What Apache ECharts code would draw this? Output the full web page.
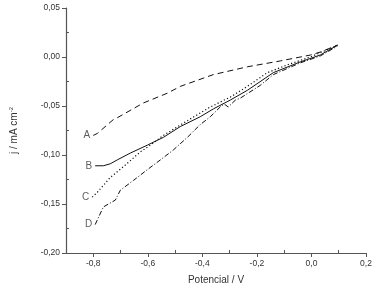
<!DOCTYPE html>
<html>
<head>
<meta charset="utf-8">
<script src="https://cdn.jsdelivr.net/npm/echarts@6/dist/echarts.min.js"></script>
<style>html,body{margin:0;padding:0;background:#fff}#c{width:383px;height:294px}</style>
</head>
<body>
<div id="c"></div>
<script>
// Data (Potencial / V, j / mA cm^-2)
const curveA = [[-0.800,-0.080],[-0.785,-0.078],[-0.727,-0.064],[-0.712,-0.062],[-0.617,-0.047],[-0.529,-0.037],[-0.481,-0.030],[-0.360,-0.018],[-0.235,-0.010],[-0.114,-0.004],[-0.004,0.002],[0.032,0.005],[0.095,0.012],[0.102,0.014],[0.080,0.010]];
const curveB = [[-0.793,-0.111],[-0.763,-0.111],[-0.738,-0.109],[-0.712,-0.105],[-0.664,-0.098],[-0.602,-0.090],[-0.543,-0.082],[-0.481,-0.071],[-0.408,-0.061],[-0.360,-0.053],[-0.298,-0.044],[-0.235,-0.034],[-0.140,-0.016],[-0.041,-0.005],[0.032,0.002],[0.095,0.012]];
const curveC = [[-0.804,-0.143],[-0.785,-0.138],[-0.738,-0.123],[-0.690,-0.112],[-0.628,-0.097],[-0.591,-0.090],[-0.543,-0.080],[-0.455,-0.065],[-0.371,-0.051],[-0.298,-0.041],[-0.235,-0.030],[-0.162,-0.016],[-0.078,-0.007],[-0.004,0.000],[0.095,0.012]];
const curveD = [[-0.793,-0.171],[-0.763,-0.153],[-0.719,-0.146],[-0.701,-0.136],[-0.653,-0.126],[-0.602,-0.115],[-0.554,-0.105],[-0.507,-0.095],[-0.455,-0.082],[-0.408,-0.069],[-0.371,-0.061],[-0.331,-0.050],[-0.320,-0.048],[-0.305,-0.051],[-0.279,-0.044],[-0.261,-0.042],[-0.188,-0.029],[-0.140,-0.018],[-0.041,-0.006],[0.032,0.001],[0.095,0.011]];
const curveNames = ['A','B','C','D'];
const xMajorTicks = [-0.8,-0.6,-0.4,-0.2,0.0,0.2];
const xMinorTicks = [-0.9,-0.7,-0.5,-0.3,-0.1,0.1];
const yMajorTicks = [-0.20,-0.15,-0.10,-0.05,0.00,0.05];
const yMinorTicks = [-0.175,-0.125,-0.075,-0.025,0.025];

const curves = [curveA, curveB, curveC, curveD];
const dashes = [[6,4], 'solid', [1.2,2.3], [5,2,1,2]];
const widths = [1, 1, 1.2, 1];
const fmt = (d) => (v) => v.toFixed(d).replace('.', ',').replace(/^-(0,0+)$/, '$1');
const lab = {fontFamily:'Liberation Sans, Arial, sans-serif', fontSize:8.5, color:'#333'};
const axisLine = {show:true, onZero:false, lineStyle:{color:'#555', width:1.2}};

const series = curves.map((c, i) => ({
  type:'line', xAxisIndex:0, yAxisIndex:0, data:c, showSymbol:false, symbol:'none',
  lineStyle:{color:'#111', width:widths[i], type:dashes[i]}, animation:false, silent:true
}));
series.push({
  type:'scatter', xAxisIndex:0, yAxisIndex:0, symbolSize:0, animation:false, silent:true,
  data: curves.map((c, i) => ({name:curveNames[i], value:c[0]})),
  label:{show:true, position:'left', distance:3, formatter:(p)=>p.name,
    fontFamily:'Liberation Sans, Arial, sans-serif', fontSize:10, color:'#333'}
});

const chart = echarts.init(document.getElementById('c'), null, {renderer:'canvas'});
chart.setOption({
  backgroundColor:'#fff',
  animation:false,
  grid:{left:66, right:17, top:8, bottom:41},
  xAxis:[{
    type:'value', min:-0.9, max:0.2, position:'bottom',
    name:'Potencial / V', nameLocation:'middle', nameGap:22,
    nameTextStyle:{fontFamily:'Liberation Sans, Arial, sans-serif', fontSize:10, color:'#333'},
    axisLine:axisLine, splitLine:{show:false},
    axisTick:{show:true, customValues:xMajorTicks, inside:false, length:4, lineStyle:{color:'#555'}},
    axisLabel:Object.assign({customValues:xMajorTicks, formatter:fmt(1), margin:6}, lab)
  },{
    type:'value', min:-0.9, max:0.2, position:'bottom',
    axisLine:{show:false, onZero:false}, splitLine:{show:false}, axisLabel:{show:false},
    axisTick:{show:true, customValues:xMinorTicks, inside:true, length:3, lineStyle:{color:'#555'}}
  }],
  yAxis:[{
    type:'value', min:-0.2, max:0.05, position:'left',
    name:'j / mA cm{s|-2}', nameLocation:'middle', nameGap:46, nameRotate:90,
    nameTextStyle:{fontFamily:'Liberation Sans, Arial, sans-serif', fontSize:10, color:'#333',
      rich:{s:{fontSize:6, verticalAlign:'top', padding:[0,0,6,0], color:'#333', fontFamily:'Liberation Sans, Arial, sans-serif'}}},
    axisLine:axisLine, splitLine:{show:false},
    axisTick:{show:true, customValues:yMajorTicks, inside:false, length:4, lineStyle:{color:'#555'}},
    axisLabel:Object.assign({customValues:yMajorTicks, formatter:fmt(2), margin:6}, lab)
  },{
    type:'value', min:-0.2, max:0.05, position:'left',
    axisLine:{show:false, onZero:false}, splitLine:{show:false}, axisLabel:{show:false},
    axisTick:{show:true, customValues:yMinorTicks, inside:true, length:3, lineStyle:{color:'#555'}}
  }],
  series:series
});
</script>
</body>
</html>
